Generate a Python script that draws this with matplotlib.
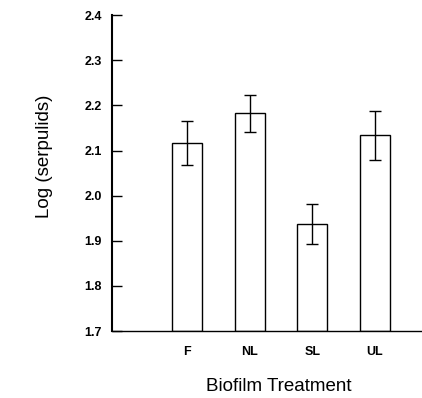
import matplotlib
matplotlib.use('Agg')
import matplotlib.pyplot as plt
import numpy as np

# values
treatments = ['F', 'NL', 'SL', 'UL']
log_serpulids = [2.117, 2.183, 1.937, 2.134]
sem = [0.048, 0.041, 0.044, 0.054]
y_ticks = [1.7, 1.8, 1.9, 2.0, 2.1, 2.2, 2.3, 2.4]

plt.rcParams['font.family'] = ['Liberation Sans', 'DejaVu Sans']

fig = plt.figure(figsize=(4.22, 3.98), dpi=100)
ax = fig.add_axes([0.265, 0.168, 0.735, 0.794])

x = np.arange(1, len(treatments) + 1)
ax.bar(x, np.array(log_serpulids) - 1.7, bottom=1.7, width=0.48,
       color='white', edgecolor='black', linewidth=1.0, zorder=2)
ax.errorbar(x, log_serpulids, yerr=sem, fmt='none', ecolor='black',
            elinewidth=1.0, capsize=4, capthick=1.0, zorder=3)

ax.set_ylim(1.7, 2.4)
ax.set_xlim(-0.2, 4.75)
ax.set_yticks(y_ticks)
ax.set_yticklabels([f'{v:.1f}' for v in y_ticks], fontweight='bold')
ax.set_xticks(x)
ax.set_xticklabels(treatments, fontweight='bold')

ax.spines['top'].set_visible(False)
ax.spines['right'].set_visible(False)
ax.spines['left'].set_linewidth(1.5)
ax.spines['bottom'].set_linewidth(1.0)
ax.tick_params(axis='y', direction='in', length=7, width=1.0, labelsize=9, pad=7)
ax.tick_params(axis='x', length=0, labelsize=9, pad=11)

ax.set_ylabel('Log (serpulids)', fontsize=13.5)
ax.yaxis.set_label_coords(-0.19, 0.554)
ax.set_xlabel('Biofilm Treatment', fontsize=13.5)
ax.xaxis.set_label_coords(0.537, -0.149)

fig.savefig('out.png', dpi=100)
